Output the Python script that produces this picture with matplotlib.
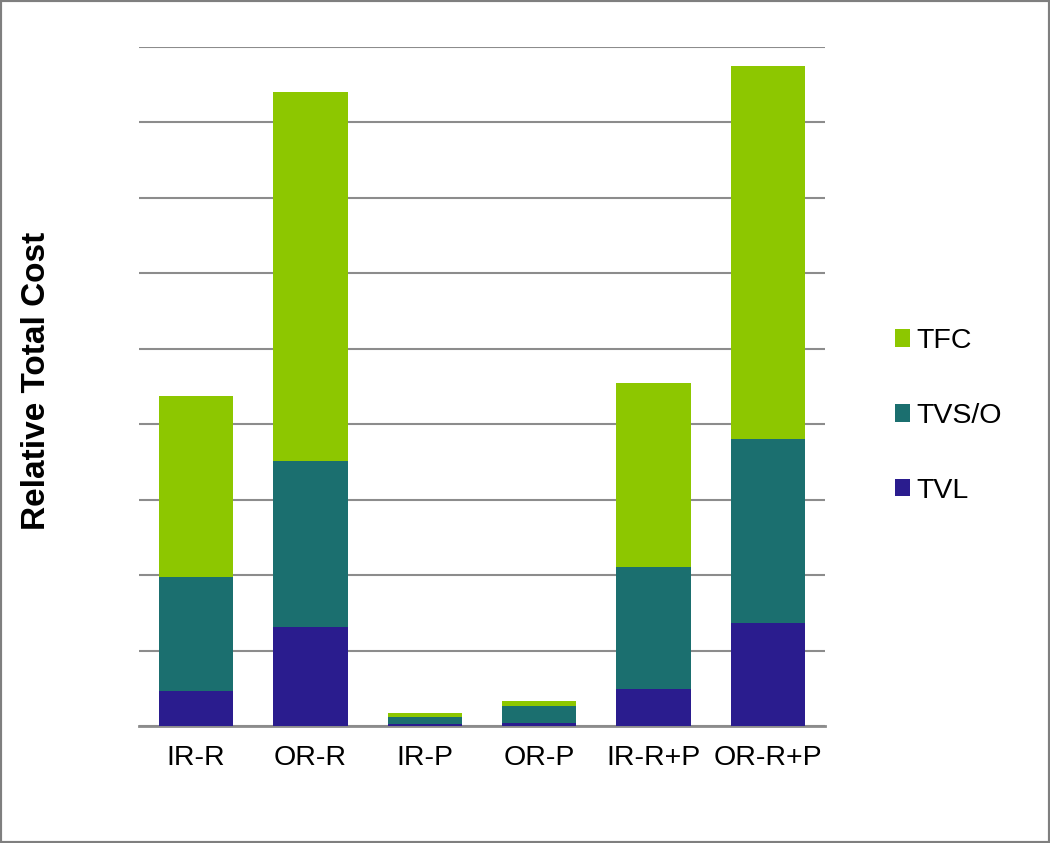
import matplotlib
matplotlib.use("Agg")
import matplotlib.pyplot as plt
from matplotlib.patches import Rectangle
import numpy as np

plt.rcParams['font.family'] = ['Liberation Sans', 'DejaVu Sans']

categories = ["IR-R", "OR-R", "IR-P", "OR-P", "IR-R+P", "OR-R+P"]
tvl = [0.46, 1.31, 0.03, 0.04, 0.49, 1.37]
tvso = [1.52, 2.20, 0.09, 0.23, 1.62, 2.44]
tfc = [2.40, 4.90, 0.05, 0.06, 2.44, 4.94]

c_tvl = "#2a1c8e"
c_tvso = "#1b6f6f"
c_tfc = "#8dc700"

fig = plt.figure(figsize=(10.5, 8.43), dpi=100)
ax = fig.add_axes([139/1050, 1-726/843, (825-139)/1050, (726-47)/843])

x = np.arange(len(categories))
w = 0.65
b1 = ax.bar(x, tvl, w, color=c_tvl, label="TVL", zorder=3)
b2 = ax.bar(x, tvso, w, bottom=tvl, color=c_tvso, label="TVS/O", zorder=3)
bottom3 = np.array(tvl) + np.array(tvso)
b3 = ax.bar(x, tfc, w, bottom=bottom3, color=c_tfc, label="TFC", zorder=3)

ax.set_xlim(-0.5, len(categories) - 0.5)
ax.set_ylim(0, 9)
ax.set_yticks(np.arange(0, 10))
ax.yaxis.grid(True, color="#8c8c8c", linewidth=1.5, zorder=0)
ax.set_axisbelow(True)
ax.tick_params(axis='y', length=0, labelleft=False)
ax.tick_params(axis='x', length=0, labelsize=20.5, pad=14)
ax.set_xticks(x)
ax.set_xticklabels(categories)
for s in ["top", "right", "left"]:
    ax.spines[s].set_visible(False)
ax.spines["bottom"].set_color("#8c8c8c")
ax.spines["bottom"].set_linewidth(2)

fig.text(37/1050, 1-381/843, "Relative Total Cost", rotation=90, fontsize=24,
         fontweight="bold", ha="center", va="center")

handles = [b3, b2, b1]
leg = fig.legend(handles, ["TFC", "TVS/O", "TVL"], loc="center left",
                 bbox_to_anchor=(869/1050, 1-416/843), frameon=False,
                 fontsize=20.5, handlelength=0.55, handleheight=0.55,
                 handletextpad=0.2, labelspacing=1.72)

fig.patches.append(Rectangle((0, 0), 1, 1, transform=fig.transFigure,
                             fill=False, edgecolor="#7f7f7f", linewidth=3))

fig.savefig("out.png", dpi=100)
